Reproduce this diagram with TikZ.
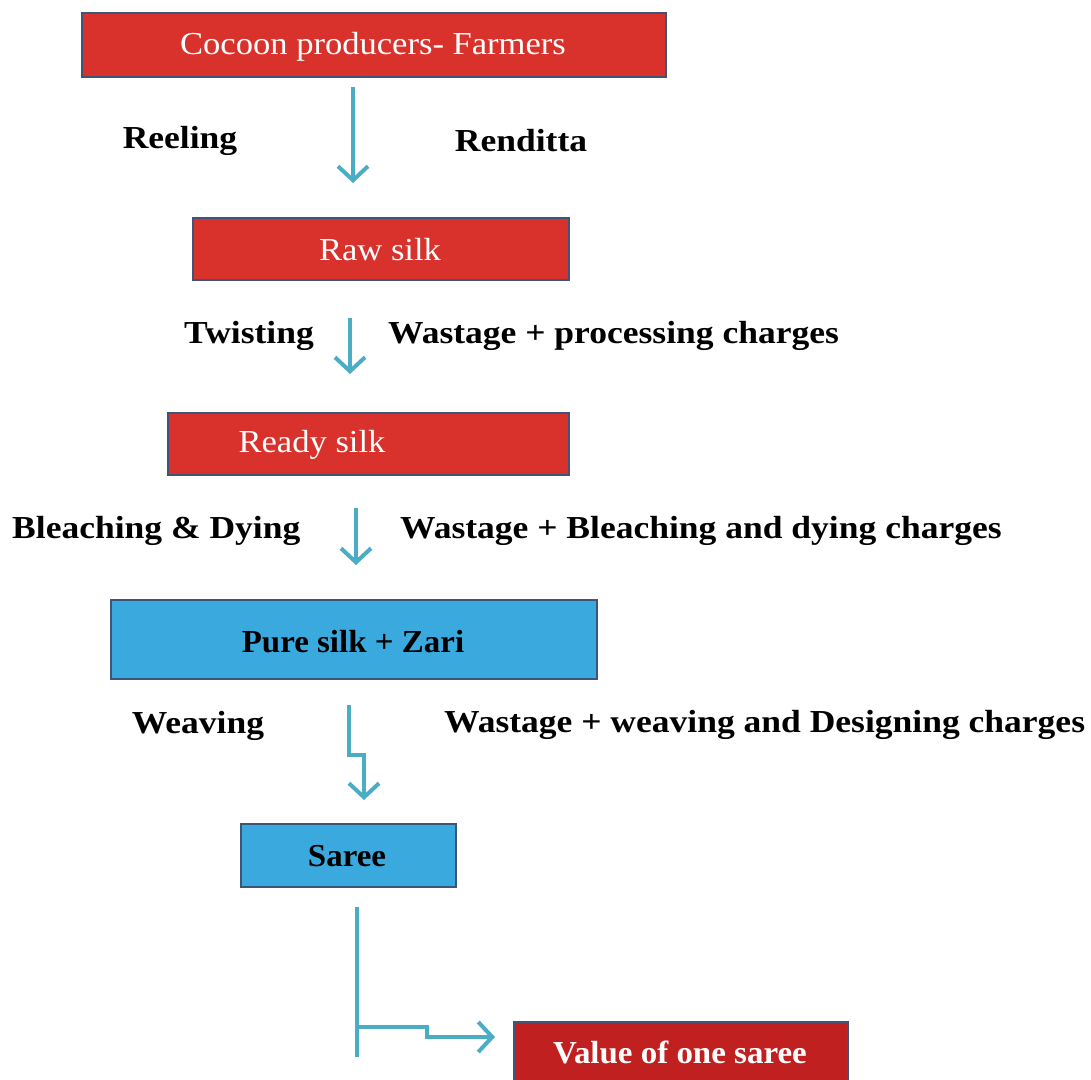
\documentclass[tikz,border=0pt]{standalone}
\usepackage{fontspec}
\setmainfont{Liberation Serif}
\usetikzlibrary{arrows.meta}
\definecolor{boxred}{HTML}{D9322C}
\definecolor{boxdred}{HTML}{C0201F}
\definecolor{boxblue}{HTML}{3AA9DE}
\definecolor{edgec}{HTML}{3F5577}
\definecolor{arrc}{HTML}{4BACC6}
\tikzset{
  box/.style={draw=edgec, line width=1.5pt},
  redbox/.style={box, fill=boxred},
  dredbox/.style={box, fill=boxdred},
  bluebox/.style={box, fill=boxblue},
  wtext/.style={text=white, font=\fontsize{32}{36}\selectfont, xscale=1.08, inner sep=0pt, yshift=-3pt},
  btext/.style={text=black, font=\fontsize{32}{36}\selectfont\bfseries, xscale=1.03, inner sep=0pt, yshift=-2pt},
  wbtext/.style={text=white, font=\fontsize{32}{36}\selectfont\bfseries, xscale=1.03, inner sep=0pt, yshift=-2pt},
  lbl/.style={font=\fontsize{32}{36}\selectfont\bfseries, xscale=1.11, inner sep=0pt, yshift=-3pt},
  flow/.style={draw=arrc, line width=4pt, -{Straight Barb[length=14pt, width=30pt, line width=4pt]}},
  plain/.style={draw=arrc, line width=4pt}
}
\begin{document}
\begin{tikzpicture}[x=1pt, y=-1pt]
\clip (0,0) rectangle (1091,1079);
\path[use as bounding box] (0,0) rectangle (1091,1079);
% boxes
\path[redbox] (82,13) rectangle (666,77);
\node[wtext] (cocoon) at (373,44) {Cocoon producers- Farmers};
\path[redbox] (193,218) rectangle (569,280);
\node[wtext] (raw) at (380,247) {Raw silk};
\path[redbox] (168,413) rectangle (569,475);
\node[wtext] (ready) at (312,442) {Ready silk};
\path[bluebox] (111,600) rectangle (597,679);
\node[btext] (pure) at (353,640) {Pure silk + Zari};
\path[bluebox] (241,824) rectangle (456,887);
\node[btext] (saree) at (347,854) {Saree};
\path[dredbox] (514,1022) rectangle (848,1100);
\node[wbtext] (value) at (680,1050) {Value of one saree};
% connector end points
\coordinate (a1s) at (353,87);   \coordinate (a1e) at (353,183);
\coordinate (a2s) at (350,318);  \coordinate (a2e) at (350,374);
\coordinate (a3s) at (356,508);  \coordinate (a3e) at (356,565);
\coordinate (a4s) at (349,705);  \coordinate (a4e) at (364,800);
\coordinate (b1s) at (357,907);  \coordinate (b1e) at (357,1057);
\coordinate (b2s) at (357,1027); \coordinate (b2e) at (495,1037);
% connectors
\draw[flow] (a1s) -- (a1e);
\draw[flow] (a2s) -- (a2e);
\draw[flow] (a3s) -- (a3e);
\draw[flow] (a4s) -- (349,755) -- (364,755) -- (a4e);
\draw[plain] (b1s) -- (b1e);
\draw[flow] (b2s) -- (427,1027) -- (427,1037) -- (b2e);
% labels
\node[lbl] (reeling) at (180,138) {Reeling};
\node[lbl] (renditta) at (521,138) {Renditta};
\node[lbl] (twisting) at (249,333) {Twisting};
\node[lbl, anchor=west] (wp) at (388,333) {Wastage + processing charges};
\node[lbl, anchor=west] (bd) at (12,528) {Bleaching \& Dying};
\node[lbl, anchor=west] (wb) at (400,528) {Wastage + Bleaching and dying charges};
\node[lbl] (weaving) at (198,723) {Weaving};
\node[lbl, anchor=west] (ww) at (444,722) {Wastage + weaving and Designing charges};
\end{tikzpicture}
\end{document}
